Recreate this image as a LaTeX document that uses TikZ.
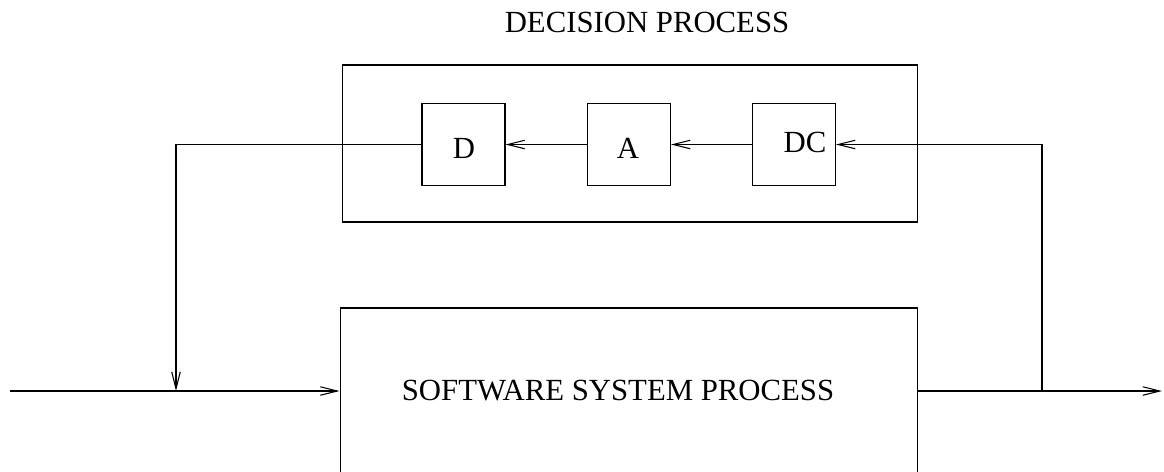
\documentclass[tikz,border=0pt]{standalone}
\usepackage{fontspec}
\setmainfont{Liberation Serif}
\usetikzlibrary{arrows.meta,positioning}

\tikzset{
  lbl/.style={font=\fontsize{17.5}{21}\selectfont,inner sep=0pt},
  blk/.style={draw,minimum width=1.66cm,minimum height=1.64cm,inner sep=0pt},
  flow/.style={-{Straight Barb[length=3.4mm,width=1.7mm]}}
}

\begin{document}
\begin{tikzpicture}[x=0.02cm,y=-0.02cm,line width=0.6pt]
\useasboundingbox (0,0) rectangle (1164,471);

% Decision process
\node[lbl] (dptitle) at (647,22) {DECISION PROCESS};
\node[draw,minimum width=11.52cm,minimum height=3.14cm] (dp) at (630,143.5) {};
\node[blk] (d)  at (463.5,144.5) {};
\node[blk] (a)  at (629,144.5) {};
\node[blk] (dc) at (794,144.5) {};
\node[lbl] (dtext)  at (464,148) {D};
\node[lbl] (atext)  at (628,148) {A};
\node[lbl] (dctext) at (805,142.5) {DC};

% Software system process (runs off the bottom)
\node[draw,minimum width=11.56cm,minimum height=3.44cm] (ssp) at (629,394) {};
\node[lbl] (ssplabel) at (618,391) {SOFTWARE SYSTEM PROCESS};

% Ends of the main line
\coordinate (in)    at (10,391);
\coordinate (out)   at (1162,391);
\coordinate (join)  at (176,391);
\coordinate (split) at (1042,391);

% Main flow
\draw[flow] (in) -- (ssp.west |- in);
\draw[flow] (ssp.east |- out) -- (out);

% Feedback loop
\draw[flow] (split) |- (dc.east);
\draw[flow] (dc.west) -- (a.east);
\draw[flow] (a.west) -- (d.east);
\draw[flow] (d.west) -| (join);
\end{tikzpicture}
\end{document}
